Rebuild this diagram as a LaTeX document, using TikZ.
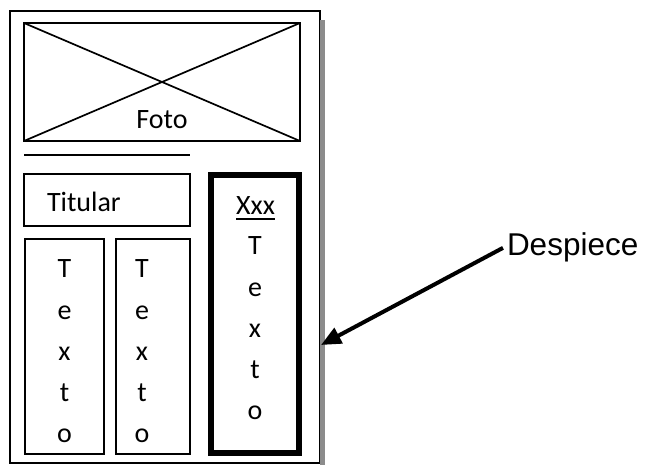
\documentclass[tikz,border=0pt]{standalone}
\usepackage{fontspec}
\setmainfont{Carlito}
\newfontfamily\labelfont{Liberation Sans}
\usetikzlibrary{arrows.meta}

\begin{document}
\begin{tikzpicture}[
                x=1pt, y=-1pt,
                every node/.style={inner sep=0pt, outer sep=0pt, font=\fontsize{28}{41.25}\selectfont}, % Calibri-like text
                box/.style={draw, line width=1.7pt},   % thin frames
                column/.style={align=center, anchor=north}, % letters stacked one per line
                ]
                \useasboundingbox (0,0) rectangle (646,465);

                % the page and its shadow
                \node[draw, line width=2pt, minimum width=310pt, minimum height=452pt] (page) at (165,237) {};
                \fill[black!45] ([yshift=-9pt]page.north east) rectangle ++(5,460);

                % photo with the cross
                \node[box, minimum width=276pt, minimum height=118pt] (foto) at (162,82) {};
                \draw[line width=1.7pt] (foto.north west) -- (foto.south east);
                \draw[line width=1.7pt] (foto.south west) -- (foto.north east);
                \node[anchor=base] (fototxt) at (162,129) {Foto};

                \draw[line width=1.7pt] (24,155) -- (190,155);

                % headline and the two text columns
                \node[box, minimum width=166pt, minimum height=52pt] (titular) at (107,200) {};
                \node[anchor=base west] (titulartxt) at (47,212) {Titular};
                \node[box, minimum width=79pt, minimum height=215pt] (col1) at (64.5,346.5) {};
                \node[box, minimum width=74pt, minimum height=215pt] (col2) at (153,346.5) {};
                \node[column] (texto1) at (64.5,260) {T\\e\\x\\t\\o};
                \node[column] (texto2) at (142,260) {T\\e\\x\\t\\o};

                % sidebar with a heavy frame
                \node[draw, line width=6pt, minimum width=88pt, minimum height=278pt] (despiece) at (255,314) {};
                \node[anchor=base] (xxx) at (255.5,215) {Xxx};
                \draw[line width=1.7pt] ([yshift=-4pt]xxx.base west) -- ([yshift=-4pt]xxx.base east);
                \node[column] (texto3) at (255,237) {T\\e\\x\\t\\o};

                % callout
                \node[font=\labelfont\fontsize{31.5}{36}\selectfont, anchor=base west] (desp) at (507,256) {Despiece};
                \coordinate (tip) at (321,345);
                \draw[line width=4pt, -{Triangle[length=20pt,width=17pt]}] ([xshift=-4pt]desp.west) -- (tip);
            \end{tikzpicture}
\end{document}
